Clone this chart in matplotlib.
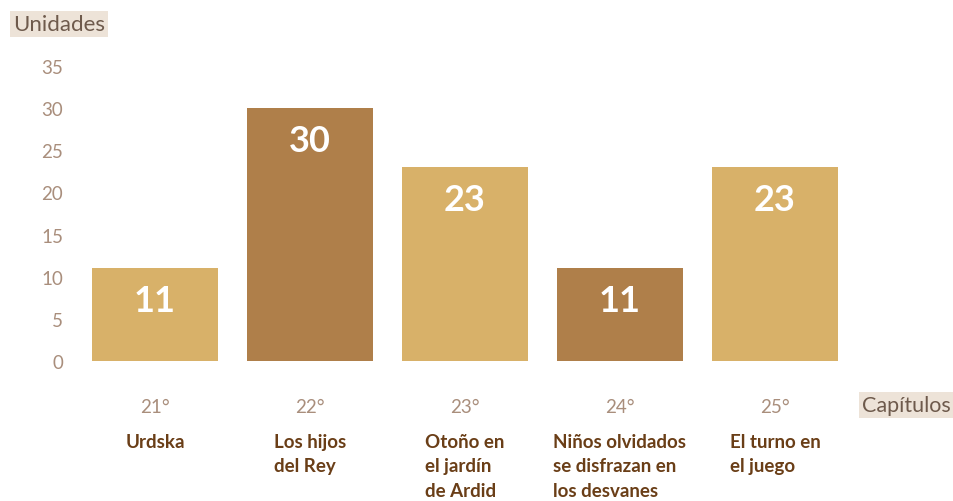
import matplotlib
matplotlib.use("Agg")
import matplotlib.pyplot as plt

chapters = ["21°", "22°", "23°", "24°", "25°"]
titles = ["Urdska", "Los hijos\ndel Rey", "Otoño en\nel jardín\nde Ardid",
          "Niños olvidados\nse disfrazan en\nlos desvanes", "El turno en\nel juego"]
values = [11, 30, 23, 11, 23]
yticks = [0, 5, 10, 15, 20, 25, 30, 35]

LIGHT = "#D8B169"
DARK = "#AF7F4A"
bar_colors = [LIGHT, DARK, LIGHT, DARK, LIGHT]
TICK_C = "#A98E7C"
TITLE_C = "#6A3E17"
BOX_C = "#EDE3D8"

plt.rcParams['font.family'] = ['Lato', 'DejaVu Sans']

W, H = 954, 502
fig = plt.figure(figsize=(W / 100, H / 100), dpi=100)
left, right = 80, 850
bottom, top = 362, 67
ax = fig.add_axes([left / W, (H - bottom) / H, (right - left) / W, (bottom - top) / H])

x = list(range(len(values)))
bars = ax.bar(x, values, width=0.81, color=bar_colors)
ax.set_xlim(-0.484, 4.484)
ax.set_ylim(0, 35)
ax.set_yticks(yticks)
ax.set_yticklabels([str(t) for t in yticks], color=TICK_C, fontsize=13.5)
ax.tick_params(axis='y', length=0, pad=12)
ax.set_xticks([])
for s in ax.spines.values():
    s.set_visible(False)

for xi, v in zip(x, values):
    ax.annotate(str(v), xy=(xi, v), xycoords='data', xytext=(0, -23), textcoords='offset points',
                ha='center', va='center', color='white', fontsize=26, fontweight='bold')

for xi, c, t in zip(x, chapters, titles):
    ax.annotate(c, xy=(xi, 0), xycoords='data', xytext=(0, -33), textcoords='offset points',
                ha='center', va='center', color=TICK_C, fontsize=13.5)
    ax.annotate(t, xy=(xi, 0), xycoords='data', xytext=(0, -51.5), textcoords='offset points',
                ha='center', va='top', multialignment='left', color=TITLE_C,
                fontsize=13.5, fontweight='bold', linespacing=1.55)

fig.text(13 / W, 1 - 25 / H, "Unidades", ha='left', va='center', fontsize=16,
         color="#6E5A4C", bbox=dict(boxstyle='square,pad=0.15', fc=BOX_C, ec='none'))
fig.text(862 / W, 1 - 406 / H, "Capítulos", ha='left', va='center', fontsize=15.5,
         color="#6E5A4C", bbox=dict(boxstyle='square,pad=0.15', fc=BOX_C, ec='none'))

fig.savefig("out.png", dpi=100)
